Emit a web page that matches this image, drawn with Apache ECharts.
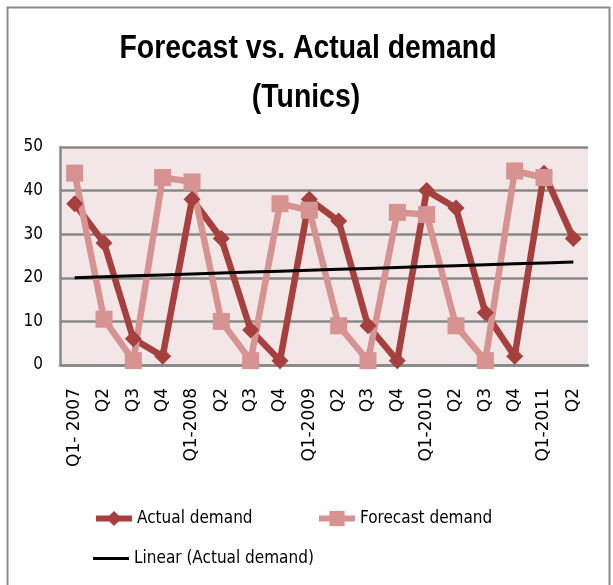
<!DOCTYPE html>
<html>
<head>
<meta charset="utf-8">
<script src="https://cdn.jsdelivr.net/npm/echarts@6/dist/echarts.min.js"></script>
<style>
html,body{margin:0;padding:0;background:#fff;}
#c{width:613px;height:585px;}
</style>
</head>
<body>
<div id="c"></div>
<script>
const categories = ['Q1- 2007','Q2','Q3','Q4','Q1-2008','Q2','Q3','Q4','Q1-2009','Q2','Q3','Q4','Q1-2010','Q2','Q3','Q4','Q1-2011','Q2'];
const actualDemand = [37,28,6,2,38,29,8,1,38,33,9,1,40,36,12,2,44,29];
const forecastDemand = [44,10.5,1,43,42,10,1,37,35.5,9,1,35,34.5,9,1,44.5,43,null];
const yTicks = [0,10,20,30,40,50];
const titleLines = ['Forecast vs. Actual demand', '(Tunics)'];

// linear trendline (least squares) of actual demand
const n = actualDemand.length;
let sx=0, sy=0, sxy=0, sxx=0;
actualDemand.forEach((v,i)=>{const x=i+1; sx+=x; sy+=v; sxy+=x*v; sxx+=x*x;});
const slope = (n*sxy - sx*sy)/(n*sxx - sx*sx);
const intercept = (sy - slope*sx)/n;
const trend = actualDemand.map((v,i)=>+(intercept + slope*(i+1)).toFixed(3));

const FONT = '"Liberation Sans Narrow","DejaVu Sans Condensed","Liberation Sans",sans-serif';
const SANS = '"Liberation Sans","DejaVu Sans",sans-serif';
const chart = echarts.init(document.getElementById('c'));
chart.setOption({
  backgroundColor: '#ffffff',
  animation: false,
  graphic: [
    {type: 'rect', left: 5, top: 5, silent: true, z: -1,
     shape: {width: 602, height: 600},
     style: {fill: 'none', stroke: '#8c8c8c', lineWidth: 2}},
    {type: 'text', x: 308, y: 49, scaleX: 0.86,
     style: {text: titleLines[0], textAlign: 'center', textVerticalAlign: 'middle',
             font: 'bold 33px ' + SANS, fill: '#000'}},
    {type: 'text', x: 306, y: 98, scaleX: 0.86,
     style: {text: titleLines[1], textAlign: 'center', textVerticalAlign: 'middle',
             font: 'bold 33px ' + SANS, fill: '#000'}}
  ],
  legend: [
    {data: ['Actual demand'], left: 93, top: 510, padding: 0, itemWidth: 36, itemHeight: 19,
     lineStyle: {width: 6},
     textStyle: {fontFamily: FONT, fontSize: 17, color: '#000'}},
    {data: ['Forecast demand'], left: 316, top: 510, padding: 0, itemWidth: 36, itemHeight: 19,
     lineStyle: {width: 6},
     textStyle: {fontFamily: FONT, fontSize: 17, color: '#000'}},
    {data: [{name: 'Linear (Actual demand)', icon: 'rect'}], left: 93, top: 550, padding: 0, itemWidth: 36, itemHeight: 3,
     textStyle: {fontFamily: FONT, fontSize: 17, color: '#000'}}
  ],
  grid: {left: 60, right: 25, top: 147, bottom: 220, show: true, backgroundColor: '#F2E6E6', borderWidth: 0},
  xAxis: {
    type: 'category', data: categories, boundaryGap: true,
    axisLine: {show: true, lineStyle: {color: '#888', width: 2.5}},
    axisTick: {show: false},
    axisLabel: {rotate: 90, interval: 0, margin: 23, fontFamily: '"DejaVu Sans",sans-serif', fontSize: 17, color: '#000'}
  },
  yAxis: {
    type: 'value', min: 0, max: 50, interval: 10,
    axisLine: {show: true, lineStyle: {color: '#888', width: 2.5}},
    axisTick: {show: false},
    axisLabel: {margin: 17, fontFamily: FONT, fontSize: 17, color: '#000',
      formatter: v => yTicks.includes(v) ? String(v) : ''},
    splitLine: {show: true, lineStyle: {color: '#888', width: 2.5}}
  },
  series: [
    {name: 'Actual demand', type: 'line', data: actualDemand,
     symbol: 'diamond', symbolSize: 17, lineStyle: {color: '#A5403F', width: 6.5},
     itemStyle: {color: '#A5403F'}},
    {name: 'Forecast demand', type: 'line', data: forecastDemand,
     symbol: 'rect', symbolSize: 17, lineStyle: {color: '#D69392', width: 6.5},
     itemStyle: {color: '#D69392'}},
    {name: 'Linear (Actual demand)', type: 'line', data: trend,
     symbol: 'none', lineStyle: {color: '#000', width: 3}, itemStyle: {color: '#000'}}
  ]
});
</script>
</body>
</html>
